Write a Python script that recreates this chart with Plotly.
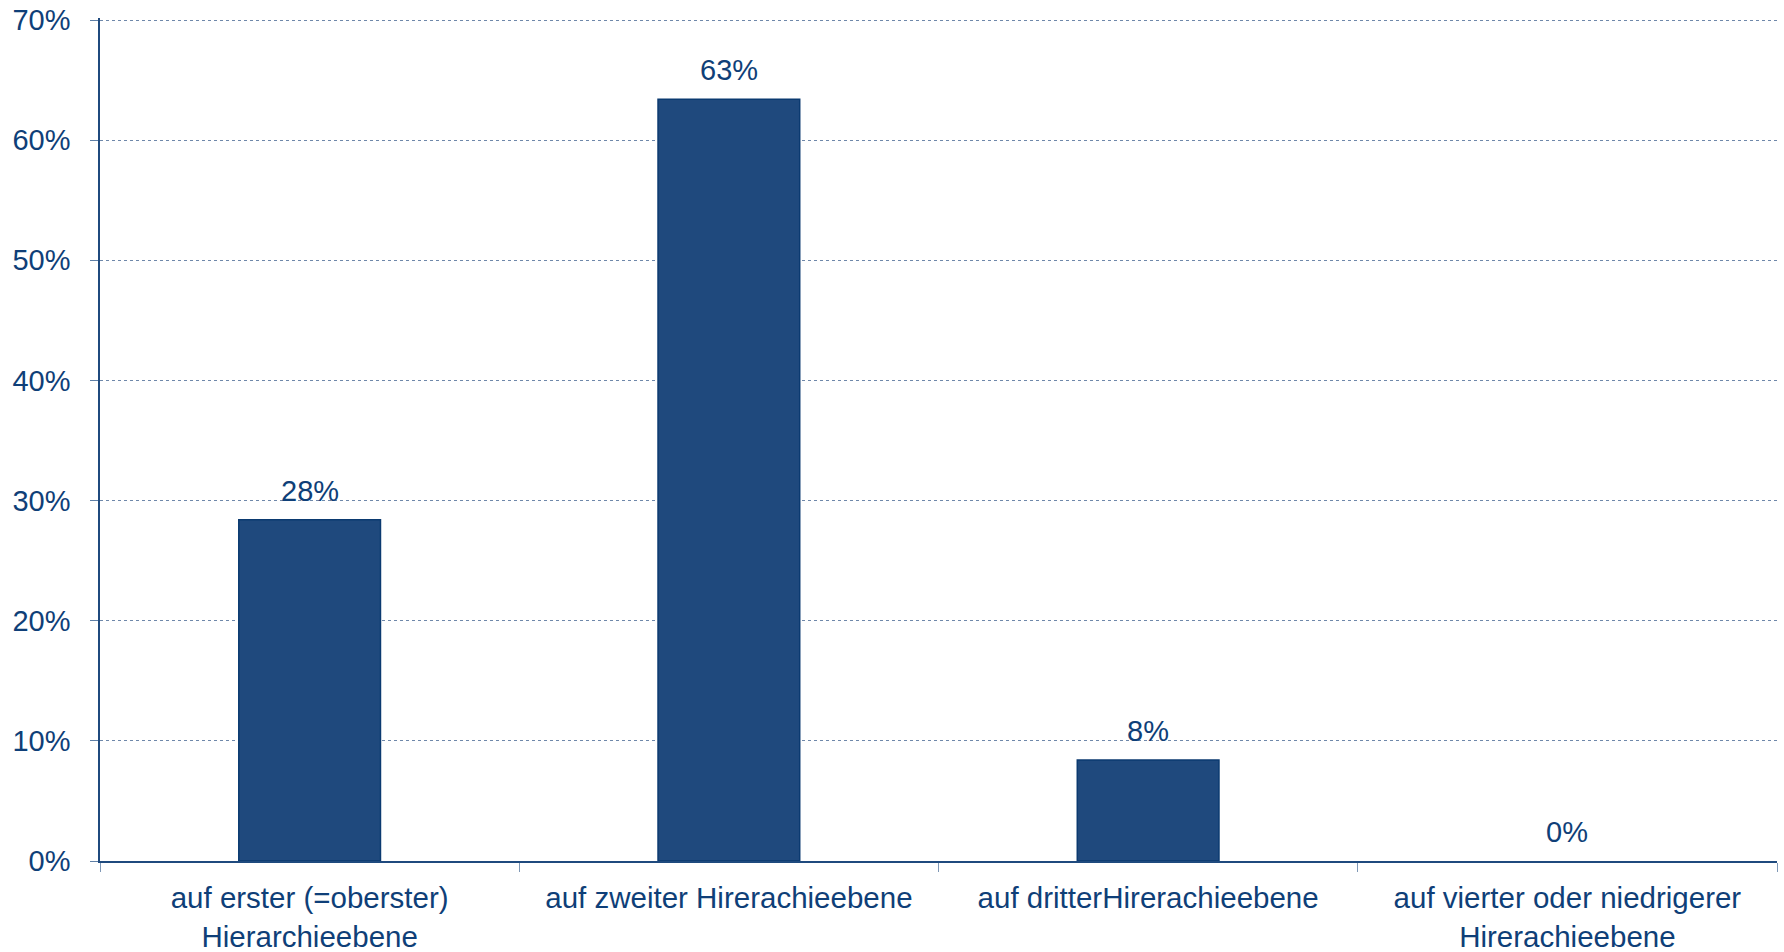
import plotly.graph_objects as go

categories = [
    "auf erster (=oberster)<br>Hierarchieebene",
    "auf zweiter Hirerachieebene",
    "auf dritterHirerachieebene",
    "auf vierter oder niedrigerer<br>Hirerachieebene",
]
values = [28.4, 63.4, 8.4, 0.0]
value_labels = ["28%", "63%", "8%", "0%"]
y_tickvals = [0, 10, 20, 30, 40, 50, 60, 70]
y_ticktext = ["0%", "10%", "20%", "30%", "40%", "50%", "60%", "70%"]

TEXT = "#0F3F78"
FONT = "Liberation Sans, Arial, sans-serif"

fig = go.Figure()
fig.add_trace(go.Bar(
    x=categories, y=values,
    marker=dict(color="#1F497D",
                line=dict(color="#0B3A70", width=[1.5 if v > 0 else 0 for v in values])),
    width=0.338,
    hoverinfo="skip",
))

for c, v, t in zip(categories, values, value_labels):
    fig.add_annotation(x=c, y=v, text=t, showarrow=False, yanchor="middle", yshift=29,
                       font=dict(family=FONT, size=29, color=TEXT))

fig.update_layout(
    width=1784, height=952,
    margin=dict(l=100, r=7, t=18, b=91),
    paper_bgcolor="white", plot_bgcolor="white",
    showlegend=False,
    font=dict(family=FONT, color=TEXT),
)
fig.update_xaxes(
    range=[-0.5, 3.5], automargin=False,
    showline=True, linecolor="#1F4A7E", linewidth=1.5,
    ticks="outside", tickson="boundaries", ticklen=9, tickcolor="#7F98B6", tickwidth=1,
    showgrid=False,
    tickfont=dict(family=FONT, size=29.5, color=TEXT),
    ticklabelstandoff=10,
)
fig.update_yaxes(
    range=[0, 70.17], automargin=False,
    tickvals=y_tickvals, ticktext=y_ticktext,
    showline=True, linecolor="#1F4A7E", linewidth=1.5,
    ticks="outside", ticklen=8, tickcolor="#5F7FA6", tickwidth=1,
    showgrid=True, gridcolor="#6F88AA", gridwidth=1, griddash="dot",
    zeroline=False,
    tickfont=dict(family=FONT, size=29, color=TEXT),
    ticklabelstandoff=14,
)

fig.write_html("out.html", config={"displayModeBar": False},
               post_script="document.body.style.margin='0';")
